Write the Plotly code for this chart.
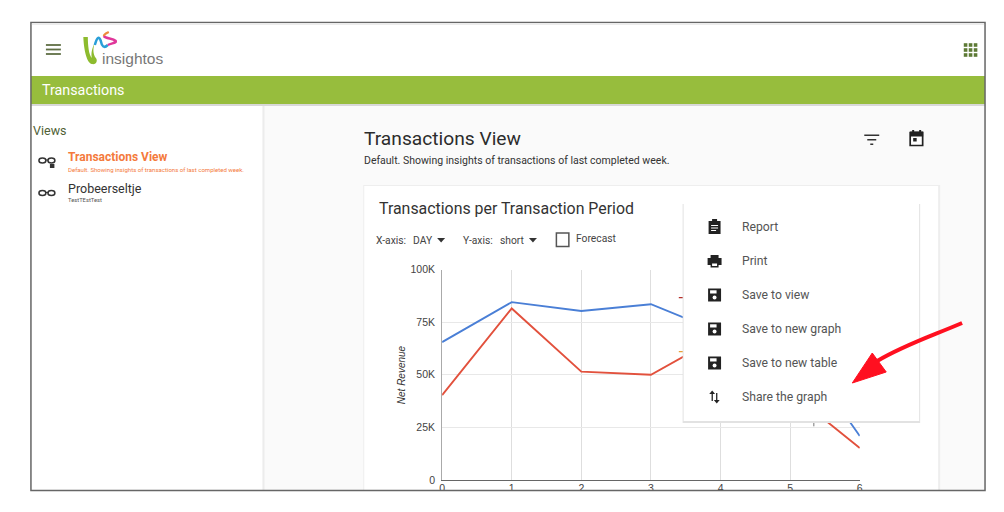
import plotly.graph_objects as go

W, H = 1004, 512

# ---- chart data (parts hidden by the menu are estimates)
day_ticks = [0, 1, 2, 3, 4, 5, 6]
revenue_blue = [65500, 84500, 80300, 83500, 70000, 68000, 20900]
revenue_red = [40300, 81500, 51500, 50000, 68500, 42000, 15200]
y_ticks = [0, 25000, 50000, 75000, 100000]
y_labels = ["0", "25K", "50K", "75K", "100K"]
# small fragments peeking out beside the menu
frag_dark_x = [3.40, 3.46]
frag_dark_y = [86600, 86600]
frag_orange_x = [3.40, 3.46]
frag_orange_y = [61000, 61000]
frag_grey_x = [5.34, 5.34]
frag_grey_y = [25500, 28500]

BLUE, RED = "#4a7fd6", "#e2513d"
DARK = "#222222"
MUTED = "#555555"

# the drawing box turned out to be 1000x500, centred in the window
BOX_W, BOX_H, OFF_X, OFF_Y = 1000, 500, 2, 6


def px(x):
    return (x - OFF_X) / BOX_W


def py(y):
    return 1 - (y - OFF_Y) / BOX_H


def rect(x0, y0, x1, y1, fill, line=None, lw=0, layer="above"):
    return dict(type="rect", xref="paper", yref="paper", x0=px(x0), x1=px(x1), y0=py(y0), y1=py(y1),
                fillcolor=fill, line=dict(color=line or fill, width=lw), layer=layer)


def sub_path(d, fill=None, stroke=None, lw=0, layer="above"):
    out = []
    for c in d:
        if isinstance(c, str):
            out.append(c)
        else:
            out.append(f"{px(c[0]):.5f},{py(c[1]):.5f}")
    path = " ".join(out).replace("M ", "M").replace("L ", "L").replace("Q ", "Q").replace("C ", "C")
    s = dict(type="path", xref="paper", yref="paper", path=path, layer=layer,
             line=dict(color=stroke or "rgba(0,0,0,0)", width=lw))
    if fill:
        s["fillcolor"] = fill
    return s


shapes = []
# page backgrounds
shapes += [rect(30, 22, 986, 490, "#fafafa", layer="below")]
shapes += [rect(30, 105, 262, 490, "#ffffff", layer="below")]
shapes += [rect(262, 105, 264, 490, "#ececec", layer="below")]
shapes += [rect(30, 24, 986, 76, "#ffffff", layer="below")]
shapes += [rect(30, 76, 986, 104, "#97bd3d", layer="below")]
shapes += [rect(30, 104, 986, 106, "#d8d8d8", layer="below")]
# card
shapes += [rect(363, 185, 941, 490, "#eeeeee", layer="below")]
shapes += [rect(364, 186, 939, 490, "#ffffff", layer="below")]

# menu with shadow (covers the lines)
shapes += [rect(683, 204, 921, 423, "#e2e2e2")]
shapes += [rect(684, 203, 920, 421, "#ffffff")]

# clip of the page at the screenshot's bottom edge
shapes += [rect(0, 490, W, H, "#ffffff")]
shapes += [rect(0, 0, W, 22, "#ffffff")]
# frame
shapes += [dict(type="rect", xref="paper", yref="paper", x0=px(30), x1=px(986), y0=py(22.5), y1=py(490.5),
                line=dict(color="#666666", width=1.5), fillcolor="rgba(0,0,0,0)", layer="above")]
shapes += [rect(31, 23, 985, 25, "#ececec")]

# hamburger
for y in (45, 49.5, 54):
    shapes.append(rect(45, y - 0.9, 60, y + 0.9, "#5f6f45"))
# app grid
for cx in (966.5, 971.5, 976.5):
    for cy in (45, 50, 55):
        shapes.append(rect(cx - 1.8, cy - 1.8, cx + 1.8, cy + 1.8, "#5d7a35"))

# logo ribbon
shapes.append(sub_path(["M", (82.5, 37), "C", (83, 50), (86, 63), (91, 64), "C", (96, 65), (97, 60), (95, 58),
                        "C", (92, 54), (92, 48), (94, 43), "C", (91, 48), (90, 54), (91, 58),
                        "C", (88, 55), (87, 45), (87, 37), "Z"], fill="#8dbb2e"))
shapes.append(sub_path(["M", (94, 45), "C", (96, 38), (98, 35), (100, 41), "C", (101, 46), (103, 49), (107, 45)],
                       stroke="#2a9fd8", lw=2.5))
shapes.append(sub_path(["M", (107, 45), "C", (111, 43), (116, 43), (115, 41), "C", (112, 38), (105, 39), (103, 36)],
                       stroke="#e0379a", lw=2.5))
shapes.append(sub_path(["M", (103, 36), "C", (103, 34), (106, 33), (108, 32)], stroke="#ee8a3c", lw=2))


def glasses(x, y, color="#333333"):
    return [
        dict(type="circle", xref="paper", yref="paper", x0=px(x), x1=px(x + 7), y0=py(y + 2.5), y1=py(y - 2.5),
             line=dict(color=color, width=1.5), fillcolor="rgba(0,0,0,0)", layer="above"),
        dict(type="circle", xref="paper", yref="paper", x0=px(x + 9), x1=px(x + 16), y0=py(y + 2.5), y1=py(y - 2.5),
             line=dict(color=color, width=1.5), fillcolor="rgba(0,0,0,0)", layer="above"),
        rect(x + 6.5, y - 1, x + 9.5, y, color),
    ]


shapes += glasses(38, 160.5)
shapes.append(rect(49, 164, 53.5, 168, "#333333"))
shapes += glasses(38, 193)

# filter icon
shapes += [rect(865, 134.5, 880, 136, "#333333"), rect(868, 139, 877, 140.5, "#333333"), rect(871, 143.5, 874, 145, "#333333")]
# calendar icon
shapes += [rect(911, 132.5, 923.5, 145.5, "#ffffff", line="#222222", lw=1.7), rect(911, 131.5, 924, 136.5, "#222222"),
           rect(913, 130, 915, 133, "#222222"), rect(920, 130, 922, 133, "#222222"), rect(914, 138, 917.5, 141.5, "#222222")]
# checkbox
shapes.append(dict(type="rect", xref="paper", yref="paper", x0=px(556.5), x1=px(569), y0=py(233), y1=py(246.5),
                   line=dict(color="#555555", width=1.5), fillcolor="#ffffff", layer="below"))
# dropdown carets
for cx in (441, 533):
    shapes.append(sub_path(["M", (cx - 4, 238), "L", (cx + 4, 238), "L", (cx, 242.5), "Z"], fill="#333333"))

# menu icons
ix = 715
shapes += [rect(ix - 6, 221, ix + 6, 234, "#222222"), rect(ix - 2.5, 219, ix + 2.5, 222.5, "#222222"),
           rect(ix - 3.5, 225, ix + 3.5, 226, "#ffffff"), rect(ix - 3.5, 227.5, ix + 3.5, 228.5, "#ffffff"),
           rect(ix - 3.5, 230, ix + 1.5, 231, "#ffffff")]
shapes += [rect(ix - 4, 255, ix + 4, 258, "#222222"), rect(ix - 7, 258, ix + 7, 265, "#222222"),
           rect(ix - 4, 262, ix + 4, 267.5, "#222222"), rect(ix - 2.5, 263.5, ix + 2.5, 266, "#ffffff")]
for cy in (295, 329, 363):
    shapes += [rect(ix - 6.5, cy - 6.5, ix + 6.5, cy + 6.5, "#222222"),
               rect(ix - 4.5, cy - 4.7, ix + 2, cy - 1.5, "#ffffff")]
    shapes.append(dict(type="circle", xref="paper", yref="paper", x0=px(ix - 2), x1=px(ix + 2),
                       y0=py(cy + 4.6), y1=py(cy + 0.6), fillcolor="#ffffff",
                       line=dict(color="#ffffff", width=0), layer="above"))
# share arrows
shapes += [rect(712, 392, 713.3, 401, "#222222"), rect(716.5, 393, 717.8, 402, "#222222")]
shapes.append(sub_path(["M", (709.7, 394), "L", (715.5, 394), "L", (712.6, 390.5), "Z"], fill="#222222"))
shapes.append(sub_path(["M", (714.3, 400), "L", (720.1, 400), "L", (717.2, 403.5), "Z"], fill="#222222"))

# red arrow
shapes.append(sub_path(["M", (963, 323), "C", (930, 337), (905, 345), (878, 361)], stroke="#ff1020", lw=4))
shapes.append(sub_path(["M", (873, 353), "L", (887, 372), "L", (853, 383), "Z"], fill="#ff1020", stroke="#ff1020", lw=1))


def note(x, y, text, size=12, color=DARK, anchor="left", family="Roboto", **kw):
    return dict(xref="paper", yref="paper", x=px(x), y=py(y), text=text, showarrow=False,
                xanchor=anchor, yanchor="middle", align=anchor,
                xshift=-2,
                font=dict(family=family, size=size, color=color), **kw)


annotations = [
    note(101, 59, "insightos", 15.5, "#777777", family="Liberation Sans"),
    note(41, 90, "Transactions", 14.3, "#ffffff"),
    note(32, 130, "Views", 12.5, "#4f5f35"),
    note(67, 157, "<b>Transactions View</b>", 12, "#f47a3c"),
    note(67, 169, "Default. Showing insights of transactions of last completed week.", 6.05, "#f47a3c"),
    note(67, 188.5, "Probeerseltje", 12.5, "#333333"),
    note(67, 200, "TestTEstTest", 5.8, "#555555"),
    note(364, 138.5, "Transactions View", 19.2, "#2c2c2c"),
    note(364, 160.5, "Default. Showing insights of transactions of last completed week.", 10.5, "#333333"),
    note(379, 208, "Transactions per Transaction Period", 15.9, "#333333"),
    note(376, 240, "X-axis:", 10.3, "#444444"),
    note(413, 240, "DAY", 10.3, "#444444"),
    note(463, 240, "Y-axis:", 10.3, "#444444"),
    note(500, 240, "short", 10.3, "#444444"),
    note(576, 239, "Forecast", 10.3, "#444444"),
    note(742, 227, "Report", 12.2, MUTED),
    note(742, 261, "Print", 12.2, MUTED),
    note(742, 295, "Save to view", 12.2, MUTED),
    note(742, 329, "Save to new graph", 12.2, MUTED),
    note(742, 363, "Save to new table", 12.2, MUTED),
    note(742, 397, "Share the graph", 12.2, MUTED),
    note(403, 375, "<i>Net Revenue</i>", 10, "#333333", anchor="center", family="Liberation Sans", textangle=-90),
]

fig = go.Figure()
fig.add_trace(go.Scatter(x=day_ticks, y=revenue_blue, mode="lines", line=dict(color=BLUE, width=1.9)))
fig.add_trace(go.Scatter(x=day_ticks, y=revenue_red, mode="lines", line=dict(color=RED, width=1.9)))
fig.add_trace(go.Scatter(x=frag_dark_x, y=frag_dark_y, mode="lines", line=dict(color="#b5302a", width=1.2)))
fig.add_trace(go.Scatter(x=frag_orange_x, y=frag_orange_y, mode="lines", line=dict(color="#e8a13a", width=1.2)))
fig.add_trace(go.Scatter(x=frag_grey_x, y=frag_grey_y, mode="lines", line=dict(color="#777777", width=1)))

fig.update_layout(
    width=W, height=H, margin=dict(l=0, r=0, t=0, b=0), showlegend=False,
    paper_bgcolor="#ffffff", plot_bgcolor="rgba(0,0,0,0)",
    shapes=shapes, annotations=annotations,
    xaxis=dict(domain=[px(442), px(860.5)], range=[0, 6], tickvals=day_ticks, ticks="",
               gridcolor="#dedede", gridwidth=1, zeroline=False, showline=True, linecolor="#666666", linewidth=1.2,
               mirror=False, tickfont=dict(family="Liberation Sans", size=10.5, color="#444444"), ticklabelstandoff=-2),
    yaxis=dict(domain=[py(480), py(269.5)], range=[0, 100000], tickvals=y_ticks, ticktext=y_labels, ticks="",
               gridcolor="#e8e8e8", gridwidth=1.4, zeroline=False, showline=True, linecolor="#aaaaaa", linewidth=1,
               ticklabelstandoff=4,
               tickfont=dict(family="Liberation Sans", size=10.5, color="#444444")),
)

fig.write_html("out.html", config=dict(displayModeBar=False),
               post_script="document.body.style.margin='0';document.body.style.overflow='hidden';")
